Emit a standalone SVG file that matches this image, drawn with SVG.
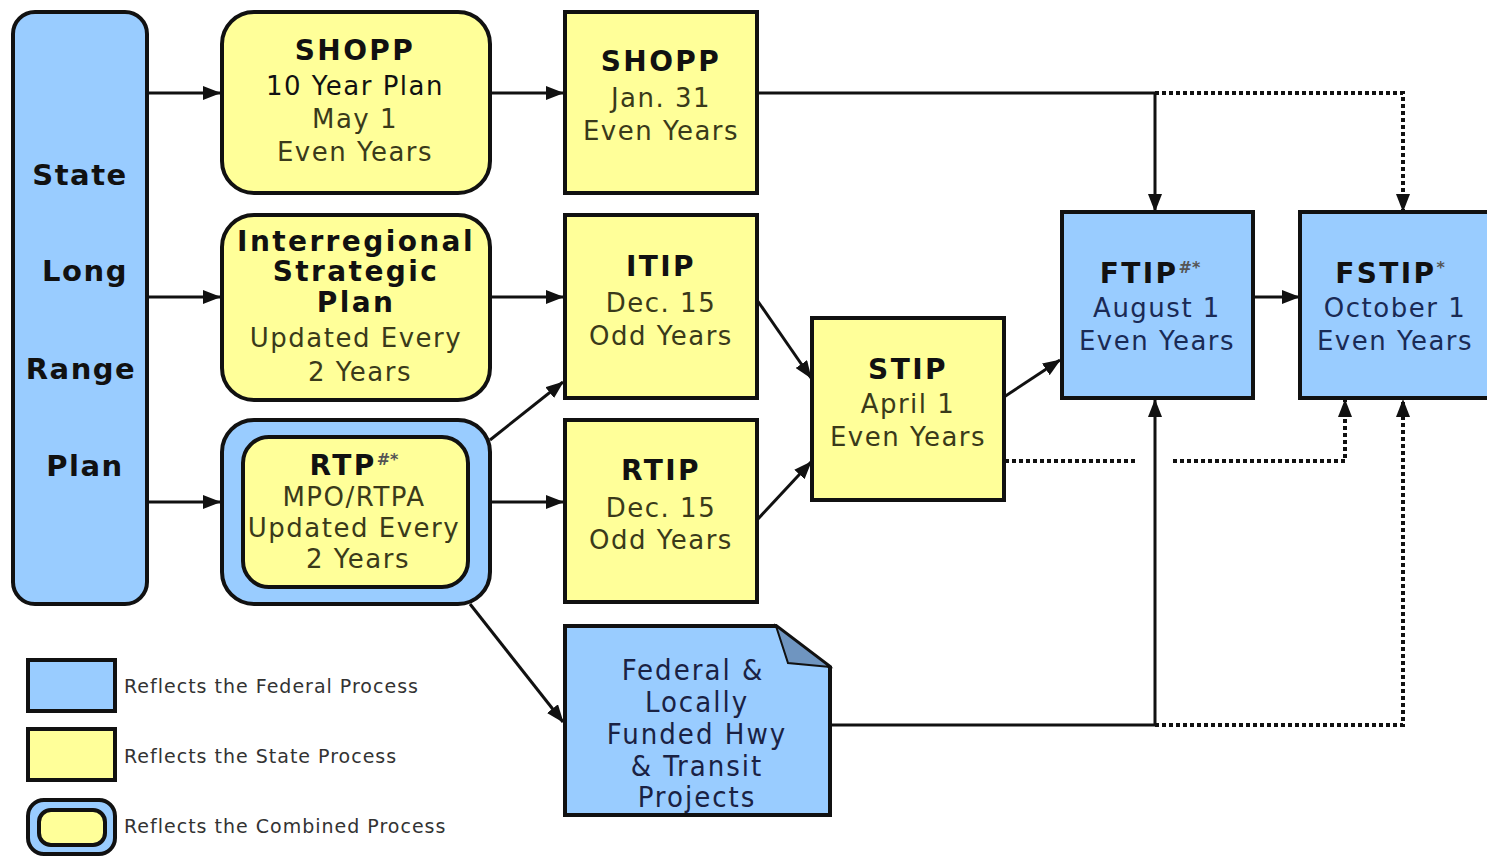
<svg xmlns="http://www.w3.org/2000/svg" width="1487" height="856" viewBox="0 0 1487 856">
<style>
.blue{fill:#99ccff;stroke:#111;stroke-width:4}
.yel{fill:#ffff99;stroke:#111;stroke-width:4}
.t{font-family:"DejaVu Sans",Verdana,sans-serif;text-anchor:middle}
.b{font-weight:bold;font-size:28px;fill:#111;letter-spacing:2.4px}
.r{font-size:26px;fill:#3a3a1a;letter-spacing:1.5px}
.rb{font-size:26px;fill:#1a2a55;letter-spacing:1.5px}
.side{font-weight:bold;font-size:29px;fill:#111;letter-spacing:1.5px}
.leg{font-family:"DejaVu Sans",Verdana,sans-serif;font-size:19px;fill:#333;letter-spacing:1px}
.sup{font-size:16px;font-weight:bold;fill:#555;letter-spacing:0}
.c{fill:none;stroke:#111;stroke-width:3}
.d{fill:none;stroke:#111;stroke-width:4;stroke-dasharray:4 3}
.fed{font-family:"DejaVu Sans",sans-serif;font-stretch:condensed;font-size:29px;fill:#1a2244;text-anchor:middle;letter-spacing:2px}
</style>
<defs>
<marker id="ah" markerUnits="userSpaceOnUse" markerWidth="18" markerHeight="14" refX="17" refY="7" orient="auto">
<path d="M0,0 L18,7 L0,14 z" fill="#111"/>
</marker>
</defs>
<rect width="1487" height="856" fill="#fff"/>

<g id="connectors">
<line class="c" x1="147" y1="93" x2="220" y2="93" marker-end="url(#ah)"/>
<line class="c" x1="147" y1="297" x2="220" y2="297" marker-end="url(#ah)"/>
<line class="c" x1="147" y1="502" x2="220" y2="502" marker-end="url(#ah)"/>
<line class="c" x1="490" y1="93" x2="563" y2="93" marker-end="url(#ah)"/>
<line class="c" x1="490" y1="297" x2="563" y2="297" marker-end="url(#ah)"/>
<line class="c" x1="490" y1="502" x2="563" y2="502" marker-end="url(#ah)"/>
<line class="c" x1="490" y1="440" x2="563" y2="382" marker-end="url(#ah)"/>
<line class="c" x1="470" y1="604" x2="563" y2="722" marker-end="url(#ah)"/>
<line class="c" x1="757" y1="300" x2="811" y2="378" marker-end="url(#ah)"/>
<line class="c" x1="757" y1="520" x2="811" y2="462" marker-end="url(#ah)"/>
<line class="c" x1="1004" y1="397" x2="1060" y2="360" marker-end="url(#ah)"/>
<polyline class="c" points="757,93 1155,93 1155,211" marker-end="url(#ah)"/>
<polyline class="d" points="1155,93 1403,93 1403,211" marker-end="url(#ah)"/>
<line class="c" x1="1253" y1="297" x2="1299" y2="297" marker-end="url(#ah)"/>
<line class="d" x1="1005" y1="461" x2="1137" y2="461"/>
<polyline class="d" points="1173,461 1345,461 1345,400" marker-end="url(#ah)"/>
<polyline class="c" points="830,725 1155,725 1155,400" marker-end="url(#ah)"/>
<polyline class="d" points="1155,725 1403,725 1403,400" marker-end="url(#ah)"/>
</g>

<g id="state-long-range-plan">
<rect class="blue" x="13" y="12" width="134" height="592" rx="22"/>
<text class="t side" x="80" y="185">State</text>
<text class="t side" x="85" y="281">Long</text>
<text class="t side" x="81" y="379">Range</text>
<text class="t side" x="85" y="476">Plan</text>
</g>

<g id="shopp-10-year">
<rect class="yel" x="222" y="12" width="268" height="181" rx="32"/>
<text class="t b" x="355" y="60">SHOPP</text>
<text class="t r" x="355" y="95" style="fill:#111">10 Year Plan</text>
<text class="t r" x="355" y="128">May 1</text>
<text class="t r" x="355" y="161">Even Years</text>
</g>

<g id="interregional-plan">
<rect class="yel" x="222" y="215" width="268" height="185" rx="32"/>
<text class="t b" x="356" y="251">Interregional</text>
<text class="t b" x="356" y="281">Strategic</text>
<text class="t b" x="356" y="312">Plan</text>
<text class="t r" x="356" y="347">Updated Every</text>
<text class="t r" x="360" y="381">2 Years</text>
</g>

<g id="rtp">
<rect class="blue" x="222" y="420" width="268" height="184" rx="32"/>
<rect class="yel" x="243" y="437" width="225" height="150" rx="26"/>
<text class="t b" x="354" y="475">RTP<tspan class="sup" dy="-10">#*</tspan></text>
<text class="t r" x="354" y="506">MPO/RTPA</text>
<text class="t r" x="354" y="537">Updated Every</text>
<text class="t r" x="358" y="568">2 Years</text>
</g>

<g id="shopp">
<rect class="yel" x="565" y="12" width="192" height="181"/>
<text class="t b" x="661" y="71">SHOPP</text>
<text class="t r" x="661" y="107">Jan. 31</text>
<text class="t r" x="661" y="140">Even Years</text>
</g>

<g id="itip">
<rect class="yel" x="565" y="215" width="192" height="183"/>
<text class="t b" x="661" y="276">ITIP</text>
<text class="t r" x="661" y="312">Dec. 15</text>
<text class="t r" x="661" y="345">Odd Years</text>
</g>

<g id="rtip">
<rect class="yel" x="565" y="420" width="192" height="182"/>
<text class="t b" x="661" y="480">RTIP</text>
<text class="t r" x="661" y="517">Dec. 15</text>
<text class="t r" x="661" y="549">Odd Years</text>
</g>

<g id="stip">
<rect class="yel" x="812" y="318" width="192" height="182"/>
<text class="t b" x="908" y="379">STIP</text>
<text class="t r" x="908" y="413">April 1</text>
<text class="t r" x="908" y="446">Even Years</text>
</g>

<g id="ftip">
<rect class="blue" x="1062" y="212" width="191" height="186"/>
<text class="t b" x="1150" y="283">FTIP<tspan class="sup" dy="-10">#*</tspan></text>
<text class="t rb" x="1157" y="317">August 1</text>
<text class="t rb" x="1157" y="350">Even Years</text>
</g>

<g id="fstip">
<rect class="blue" x="1300" y="212" width="192" height="186"/>
<text class="t b" x="1390" y="283">FSTIP<tspan class="sup" dy="-10">*</tspan></text>
<text class="t rb" x="1395" y="317">October 1</text>
<text class="t rb" x="1395" y="350">Even Years</text>
</g>

<g id="federal-locally-funded">
<path class="blue" d="M565,626 L776,626 L830,667 L830,815 L565,815 Z"/>
<path d="M776,626 L788,663 L830,667 Z" fill="#6f95c0" stroke="#111" stroke-width="2"/>
<text class="fed" x="693" y="680">Federal &amp;</text>
<text class="fed" x="697" y="712">Locally</text>
<text class="fed" x="697" y="744">Funded Hwy</text>
<text class="fed" x="697" y="776">&amp; Transit</text>
<text class="fed" x="697" y="807">Projects</text>
</g>

<g id="legend">
<rect class="blue" x="28" y="660" width="87" height="51"/>
<text class="leg" x="124" y="693">Reflects the Federal Process</text>
<rect class="yel" x="28" y="729" width="87" height="51"/>
<text class="leg" x="124" y="763">Reflects the State Process</text>
<rect class="blue" x="28" y="800" width="87" height="54" rx="16"/>
<rect class="yel" x="39" y="810" width="66" height="35" rx="12"/>
<text class="leg" x="124" y="833">Reflects the Combined Process</text>
</g>
</svg>
